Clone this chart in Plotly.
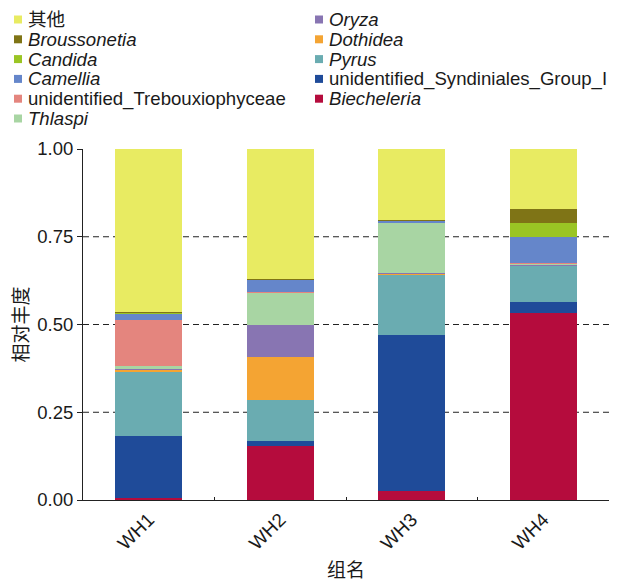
import plotly.graph_objects as go

# Sample groups
groups = ["WH1", "WH2", "WH3", "WH4"]

# Taxa, listed bottom-to-top of the stack
taxa = [
    "Biecheleria",
    "unidentified_Syndiniales_Group_I",
    "Pyrus",
    "Dothidea",
    "Oryza",
    "Thlaspi",
    "unidentified_Trebouxiophyceae",
    "Camellia",
    "Candida",
    "Broussonetia",
    "其他",
]
italic = [True, False, True, True, True, True, False, True, True, True, False]

colors = [
    "#B50C3D",
    "#1F4B99",
    "#6AACB1",
    "#F4A433",
    "#8875B2",
    "#A8D5A3",
    "#E4857E",
    "#6586CA",
    "#9AC524",
    "#7F7416",
    "#E8EB62",
]

# Relative abundance per taxon, in group order WH1..WH4
biecheleria = [0.006, 0.155, 0.025, 0.533]
syndiniales = [0.175, 0.013, 0.445, 0.032]
pyrus = [0.185, 0.117, 0.173, 0.102]
dothidea = [0.005, 0.121, 0.003, 0.002]
oryza = [0.002, 0.092, 0.001, 0.001]
thlaspi = [0.008, 0.093, 0.143, 0.004]
trebouxiophyceae = [0.131, 0.001, 0.001, 0.001]
camellia = [0.020, 0.035, 0.004, 0.075]
candida = [0.001, 0.001, 0.001, 0.040]
broussonetia = [0.002, 0.001, 0.001, 0.038]
others = [0.465, 0.371, 0.203, 0.172]

values = [biecheleria, syndiniales, pyrus, dothidea, oryza, thlaspi,
          trebouxiophyceae, camellia, candida, broussonetia, others]

y_ticks = [0.0, 0.25, 0.5, 0.75, 1.0]
y_tick_text = ["0.00", "0.25", "0.50", "0.75", "1.00"]
grid_levels = [0.25, 0.5, 0.75]

W, H = 642, 581
ML, MR, MT, MB = 83, 33, 149, 81
PW, PH = W - ML - MR, H - MT - MB

FONT = "Liberation Sans, Arial, Noto Sans CJK SC, sans-serif"
TEXT = "#1a1a1a"


def px_x(px):
    return (px - ML) / PW


def px_y(py):
    return (H - MB - py) / PH


fig = go.Figure()
for name, vals, col in zip(taxa, values, colors):
    fig.add_trace(go.Bar(
        x=groups, y=vals, name=name,
        marker=dict(color=col, line=dict(width=0)),
        width=0.51, showlegend=False,
    ))

shapes = []
for lvl in grid_levels:
    shapes.append(dict(type="line", xref="paper", yref="y", x0=0, x1=1,
                       y0=lvl, y1=lvl, layer="below",
                       line=dict(color="#222", width=1, dash="6px,4px")))

# Two-column legend, top-of-stack first
annotations = []
order = list(range(len(taxa)))[::-1]
columns = [order[:6], order[6:]]
col_square_x = [14, 315]
col_text_x = [27, 328]
row0, row_step, sq = 19.5, 19.8, 8
for c, idxs in enumerate(columns):
    for r, i in enumerate(idxs):
        cy = row0 + r * row_step
        sx = col_square_x[c]
        shapes.append(dict(type="rect", xref="paper", yref="paper",
                           x0=px_x(sx), x1=px_x(sx + sq),
                           y0=px_y(cy + sq / 2), y1=px_y(cy - sq / 2),
                           fillcolor=colors[i], line=dict(width=0)))
        label = f"<i>{taxa[i]}</i>" if italic[i] else taxa[i]
        annotations.append(dict(xref="paper", yref="paper",
                                x=px_x(col_text_x[c]), y=px_y(cy),
                                xanchor="left", yanchor="middle",
                                text=label, showarrow=False, borderpad=0,
                                font=dict(size=18.6, color=TEXT, family=FONT)))

fig.update_layout(
    barmode="stack",
    width=W, height=H,
    margin=dict(l=ML, r=MR, t=MT, b=MB, pad=0),
    paper_bgcolor="white", plot_bgcolor="white",
    font=dict(family=FONT, color=TEXT),
    shapes=shapes,
    annotations=annotations,
    xaxis=dict(
        type="category", range=[-0.5, 3.5], automargin=False,
        showline=True, linecolor="#222", linewidth=1,
        ticks="inside", tickson="boundaries", ticklen=3, tickcolor="#222",
        tickangle=-45, tickfont=dict(size=19, color=TEXT),
        showgrid=False, zeroline=False,
        title=dict(text="组名", font=dict(size=19, color=TEXT), standoff=14),
    ),
    yaxis=dict(
        range=[0, 1], tickvals=y_ticks, ticktext=y_tick_text, automargin=False,
        showline=True, linecolor="#222", linewidth=1,
        ticks="outside", ticklen=5, tickcolor="#222",
        tickfont=dict(size=18.5, color=TEXT),
        showgrid=False, zeroline=False,
        title=dict(text="相对丰度", font=dict(size=19, color=TEXT), standoff=3),
    ),
)

fig.write_html("out.html")
